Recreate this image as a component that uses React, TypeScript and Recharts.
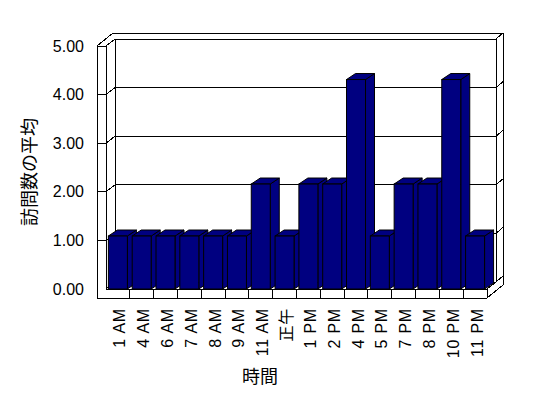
import React from 'react';
import { BarChart, Bar, XAxis, YAxis, CartesianGrid, Label } from 'recharts';

const hours = ['1 AM', '4 AM', '6 AM', '7 AM', '8 AM', '9 AM', '11 AM', '正午', '1 PM', '2 PM', '4 PM', '5 PM', '7 PM', '8 PM', '10 PM', '11 PM'];
const avgVisits = [1.09, 1.09, 1.09, 1.09, 1.09, 1.09, 2.16, 1.09, 2.16, 2.16, 4.31, 1.09, 2.16, 2.16, 4.31, 1.09];
const yTicks = [0, 1, 2, 3, 4, 5];

const data = hours.map((h, i) => ({ hour: h, value: avgVisits[i] }));

const W = 548;
const H = 398;
const TOP = 46;
const Y_AXIS_W = 106;
const RIGHT_M = 61;
const X_AXIS_H = 109;
const PLOT_W = W - Y_AXIS_W - RIGHT_M;
const PLOT_B = H - X_AXIS_H;
const WALL = 9;
const FLOOR = 9;
const DX = 9;
const DY = -7;
const BX = 7;
const BY = -6;
const BAR_DX = 9;
const BAR_DY = -6;
const NAVY = '#000080';
const LATIN = "'Liberation Sans', Arial, 'Noto Sans CJK JP', sans-serif";
const CJK = "'Noto Sans CJK JP', 'Liberation Sans', sans-serif";

const L = (x1: number, y1: number, x2: number, y2: number, k: string) => (
  <line key={k} x1={x1} y1={y1} x2={x2} y2={y2} stroke="#000" strokeWidth={1} shapeRendering="crispEdges" />
);

const GridLine = (p: any) => {
  const y = p.y1;
  const xl = p.x1;
  const xr = p.x2;
  const isTop = Math.abs(y - TOP) < 0.6;
  const isBottom = Math.abs(y - PLOT_B) < 0.6;
  const items: React.ReactNode[] = [];
  if (!isBottom) items.push(L(xl - WALL, y, xl, y, 'ft'));
  items.push(L(xl, y, xl + DX, y + DY, 'ld'));
  items.push(L(xl + DX, y + DY, xr + DX, y + DY, 'bk'));
  items.push(L(xr + DX, y + DY, xr + DX + BX, y + DY + BY, 'rd'));
  if (isTop) {
    items.push(L(xl - WALL, y, xl - WALL + DX + BX, y + DY + BY, 'od'));
    items.push(L(xl - WALL + DX + BX, y + DY + BY, xr + DX + BX, y + DY + BY, 'ot'));
    items.push(L(xl - WALL, y, xl - WALL, PLOT_B + FLOOR, 'v1'));
    items.push(L(xl, y, xl, PLOT_B, 'v2'));
    items.push(L(xl + DX, y + DY, xl + DX, PLOT_B + DY, 'v3'));
    items.push(L(xr + DX, y + DY, xr + DX, PLOT_B + DY, 'v4'));
    items.push(L(xr + DX + BX, y + DY + BY, xr + DX + BX, PLOT_B + FLOOR + DY + BY, 'v5'));
  }
  if (isBottom) {
    items.push(L(xl, y, xr, y, 'f1'));
    items.push(L(xl - WALL, y + FLOOR, xr, y + FLOOR, 'f2'));
    items.push(L(xr, y, xr, y + FLOOR, 'f3'));
    items.push(L(xr, y, xr + DX, y + DY, 'f4'));
    items.push(L(xr, y + FLOOR, xr + DX + BX, y + FLOOR + DY + BY, 'f5'));
  }
  return <g key={p.key ?? `g-${y}`}>{items}</g>;
};

const Bar3D = (p: any) => {
  const { x, y, width: w, height: h } = p;
  if (h == null || w == null) return null;
  const side = `${x + w},${y} ${x + w + BAR_DX},${y + BAR_DY} ${x + w + BAR_DX},${y + h + BAR_DY} ${x + w},${y + h}`;
  const top = `${x},${y} ${x + BAR_DX},${y + BAR_DY} ${x + w + BAR_DX},${y + BAR_DY} ${x + w},${y}`;
  return (
    <g>
      <polygon points={side} fill={NAVY} stroke="#000" strokeWidth={1} />
      <polygon points={top} fill={NAVY} stroke="#000" strokeWidth={1} />
      <rect x={x} y={y} width={w} height={h} fill={NAVY} stroke="#000" strokeWidth={1} />
    </g>
  );
};

const XTick = (p: any) => {
  const { x, y, payload, index } = p;
  const band = PLOT_W / hours.length;
  return (
    <g>
      {index < hours.length - 1 && L(x + band / 2, y, x + band / 2, y + FLOOR, 'dv')}
      <text
        transform={`translate(${x + 2},${y + 19}) rotate(-90)`}
        textAnchor="end"
        dominantBaseline="central"
        fontSize={16}
        letterSpacing={0.8}
        fontFamily={LATIN}
        fill="#000"
      >
        {payload.value}
      </text>
    </g>
  );
};

export default function App() {
  return (
    <div style={{ position: 'absolute', left: 0, top: 0, width: W, height: H, background: '#fff' }}>
      <BarChart
        width={W}
        height={H}
        data={data}
        margin={{ top: TOP, right: RIGHT_M, left: 0, bottom: 0 }}
        barCategoryGap="10%"
      >
        <CartesianGrid vertical={false} horizontal={(p: any) => GridLine(p)} />
        <XAxis
          dataKey="hour"
          interval={0}
          height={X_AXIS_H}
          axisLine={false}
          tickLine={false}
          tickSize={0}
          tickMargin={0}
          tick={(p: any) => <XTick {...p} />}
        >
          <Label
            content={() => (
              <text x={260} y={375} textAnchor="middle" dominantBaseline="central" fontSize={18} fontFamily={CJK} fill="#000">
                時間
              </text>
            )}
          />
        </XAxis>
        <YAxis
          width={Y_AXIS_W}
          domain={[0, 5]}
          ticks={yTicks}
          interval={0}
          axisLine={false}
          tickLine={false}
          tickSize={0}
          tickMargin={22}
          tickFormatter={(v: number) => v.toFixed(2)}
          tick={{ fill: '#000', fontSize: 16, fontFamily: LATIN }}
        >
          <Label
            content={() => (
              <text
                transform={`translate(27.5,172) rotate(-90)`}
                textAnchor="middle"
                dominantBaseline="central"
                fontSize={18}
                fontFamily={CJK}
                fill="#000"
              >
                訪問数の平均
              </text>
            )}
          />
        </YAxis>
        <Bar dataKey="value" isAnimationActive={false} shape={(p: any) => <Bar3D {...p} />} />
      </BarChart>
    </div>
  );
}
